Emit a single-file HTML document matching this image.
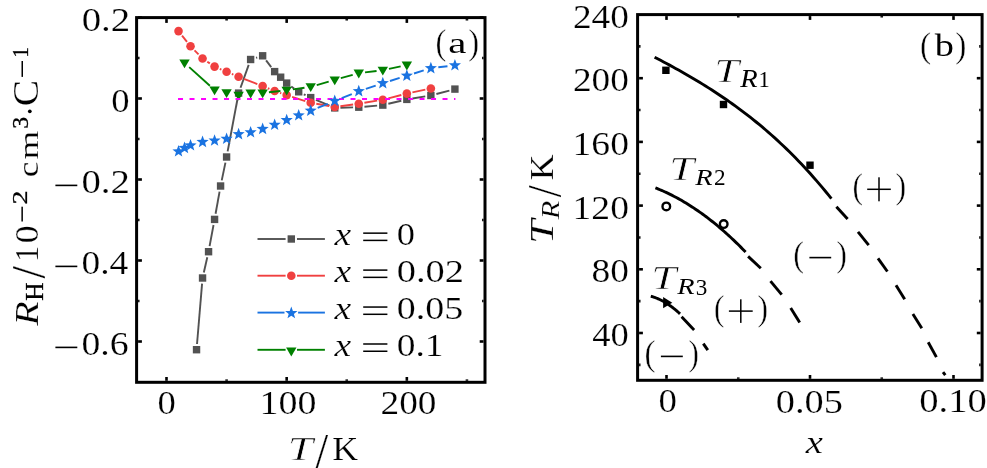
<!DOCTYPE html>
<html><head><meta charset="utf-8"><style>html,body{margin:0;padding:0;background:#fff;overflow:hidden}svg{display:block}text{font-family:"Liberation Serif",serif}</style></head>
<body>
<svg width="987" height="468" viewBox="0 0 987 468">
<rect width="987" height="468" fill="#fff"/>
<g stroke-linecap="butt">
<line x1="197.02" y1="344.02" x2="202.08" y2="283.68" stroke="#525252" stroke-width="1.9"/><line x1="203.82" y1="272.44" x2="207.29" y2="257.26" stroke="#525252" stroke-width="1.9"/><line x1="209.60" y1="246.10" x2="213.53" y2="225.00" stroke="#525252" stroke-width="1.9"/><line x1="215.58" y1="213.79" x2="219.57" y2="191.61" stroke="#525252" stroke-width="1.9"/><line x1="221.73" y1="180.42" x2="225.43" y2="162.58" stroke="#525252" stroke-width="1.9"/><line x1="227.64" y1="151.40" x2="237.55" y2="98.70" stroke="#525252" stroke-width="1.9"/><line x1="240.52" y1="87.73" x2="248.70" y2="64.87" stroke="#525252" stroke-width="1.9"/><line x1="256.07" y1="57.82" x2="257.19" y2="57.48" stroke="#525252" stroke-width="1.9"/><line x1="266.09" y1="60.34" x2="271.20" y2="67.06" stroke="#525252" stroke-width="1.9"/><line x1="291.29" y1="86.44" x2="294.07" y2="88.46" stroke="#525252" stroke-width="1.9"/><line x1="303.82" y1="94.28" x2="305.57" y2="95.12" stroke="#525252" stroke-width="1.9"/><line x1="315.94" y1="99.85" x2="329.50" y2="105.65" stroke="#525252" stroke-width="1.9"/><line x1="340.44" y1="107.73" x2="353.07" y2="107.37" stroke="#525252" stroke-width="1.9"/><line x1="364.45" y1="106.70" x2="377.13" y2="105.60" stroke="#525252" stroke-width="1.9"/><line x1="388.35" y1="103.78" x2="401.29" y2="100.72" stroke="#525252" stroke-width="1.9"/><line x1="412.47" y1="98.49" x2="425.25" y2="96.41" stroke="#525252" stroke-width="1.9"/><line x1="436.38" y1="94.03" x2="449.40" y2="90.57" stroke="#525252" stroke-width="1.9"/><rect x="192.84" y="346.00" width="7.4" height="7.4" fill="#525252"/><rect x="198.85" y="274.30" width="7.4" height="7.4" fill="#525252"/><rect x="204.86" y="248.00" width="7.4" height="7.4" fill="#525252"/><rect x="210.87" y="215.70" width="7.4" height="7.4" fill="#525252"/><rect x="216.88" y="182.30" width="7.4" height="7.4" fill="#525252"/><rect x="222.89" y="153.30" width="7.4" height="7.4" fill="#525252"/><rect x="234.90" y="89.40" width="7.4" height="7.4" fill="#525252"/><rect x="246.92" y="55.80" width="7.4" height="7.4" fill="#525252"/><rect x="258.94" y="52.10" width="7.4" height="7.4" fill="#525252"/><rect x="270.95" y="67.90" width="7.4" height="7.4" fill="#525252"/><rect x="276.96" y="73.50" width="7.4" height="7.4" fill="#525252"/><rect x="282.97" y="79.40" width="7.4" height="7.4" fill="#525252"/><rect x="294.99" y="88.10" width="7.4" height="7.4" fill="#525252"/><rect x="307.00" y="93.90" width="7.4" height="7.4" fill="#525252"/><rect x="331.04" y="104.20" width="7.4" height="7.4" fill="#525252"/><rect x="355.07" y="103.50" width="7.4" height="7.4" fill="#525252"/><rect x="379.11" y="101.40" width="7.4" height="7.4" fill="#525252"/><rect x="403.14" y="95.70" width="7.4" height="7.4" fill="#525252"/><rect x="427.17" y="91.80" width="7.4" height="7.4" fill="#525252"/><rect x="451.21" y="85.40" width="7.4" height="7.4" fill="#525252"/><line x1="182.05" y1="35.57" x2="187.00" y2="41.83" stroke="#f04040" stroke-width="1.9"/><line x1="194.53" y1="50.36" x2="198.55" y2="54.44" stroke="#f04040" stroke-width="1.9"/><line x1="207.28" y1="61.69" x2="209.84" y2="63.41" stroke="#f04040" stroke-width="1.9"/><line x1="219.80" y1="68.86" x2="221.35" y2="69.54" stroke="#f04040" stroke-width="1.9"/><line x1="231.85" y1="73.99" x2="233.34" y2="74.61" stroke="#f04040" stroke-width="1.9"/><line x1="243.92" y1="78.86" x2="257.32" y2="84.04" stroke="#f04040" stroke-width="1.9"/><line x1="267.91" y1="88.25" x2="269.37" y2="88.85" stroke="#f04040" stroke-width="1.9"/><line x1="280.05" y1="92.84" x2="281.28" y2="93.26" stroke="#f04040" stroke-width="1.9"/><line x1="292.10" y1="96.84" x2="305.28" y2="101.06" stroke="#f04040" stroke-width="1.9"/><line x1="316.32" y1="103.78" x2="329.12" y2="106.02" stroke="#f04040" stroke-width="1.9"/><line x1="340.39" y1="106.22" x2="353.12" y2="104.48" stroke="#f04040" stroke-width="1.9"/><line x1="364.39" y1="102.76" x2="377.18" y2="100.64" stroke="#f04040" stroke-width="1.9"/><line x1="388.33" y1="98.30" x2="401.32" y2="95.00" stroke="#f04040" stroke-width="1.9"/><line x1="412.42" y1="92.42" x2="425.30" y2="89.68" stroke="#f04040" stroke-width="1.9"/><circle cx="178.52" cy="31.10" r="4.3" fill="#f04040"/><circle cx="190.53" cy="46.30" r="4.3" fill="#f04040"/><circle cx="202.55" cy="58.50" r="4.3" fill="#f04040"/><circle cx="214.57" cy="66.60" r="4.3" fill="#f04040"/><circle cx="226.59" cy="71.80" r="4.3" fill="#f04040"/><circle cx="238.60" cy="76.80" r="4.3" fill="#f04040"/><circle cx="262.64" cy="86.10" r="4.3" fill="#f04040"/><circle cx="274.65" cy="91.00" r="4.3" fill="#f04040"/><circle cx="286.67" cy="95.10" r="4.3" fill="#f04040"/><circle cx="310.70" cy="102.80" r="4.3" fill="#f04040"/><circle cx="334.74" cy="107.00" r="4.3" fill="#f04040"/><circle cx="358.77" cy="103.70" r="4.3" fill="#f04040"/><circle cx="382.81" cy="99.70" r="4.3" fill="#f04040"/><circle cx="406.84" cy="93.60" r="4.3" fill="#f04040"/><circle cx="430.87" cy="88.50" r="4.3" fill="#f04040"/><line x1="189.21" y1="67.13" x2="209.88" y2="85.71" stroke="#008000" stroke-width="1.9"/><line x1="268.90" y1="92.24" x2="280.41" y2="91.00" stroke="#008000" stroke-width="1.9"/><line x1="292.90" y1="89.41" x2="304.47" y2="87.73" stroke="#008000" stroke-width="1.9"/><line x1="316.76" y1="85.08" x2="328.68" y2="81.66" stroke="#008000" stroke-width="1.9"/><line x1="340.80" y1="78.20" x2="352.71" y2="74.84" stroke="#008000" stroke-width="1.9"/><line x1="365.03" y1="72.37" x2="376.55" y2="70.97" stroke="#008000" stroke-width="1.9"/><line x1="388.97" y1="68.91" x2="400.68" y2="66.43" stroke="#008000" stroke-width="1.9"/><polygon points="179.33,59.40 189.73,59.40 184.53,68.20" fill="#008000"/><polygon points="209.37,86.40 219.77,86.40 214.57,95.20" fill="#008000"/><polygon points="221.39,89.20 231.78,89.20 226.59,98.00" fill="#008000"/><polygon points="233.40,91.70 243.80,91.70 238.60,100.50" fill="#008000"/><polygon points="245.42,89.60 255.82,89.60 250.62,98.40" fill="#008000"/><polygon points="257.44,89.40 267.84,89.40 262.64,98.20" fill="#008000"/><polygon points="281.47,86.80 291.87,86.80 286.67,95.60" fill="#008000"/><polygon points="305.50,83.30 315.90,83.30 310.70,92.10" fill="#008000"/><polygon points="329.54,76.40 339.94,76.40 334.74,85.20" fill="#008000"/><polygon points="353.57,69.60 363.97,69.60 358.77,78.40" fill="#008000"/><polygon points="377.61,66.70 388.01,66.70 382.81,75.50" fill="#008000"/><polygon points="401.64,61.60 412.04,61.60 406.84,70.40" fill="#008000"/><line x1="178.02" y1="98.9" x2="455.41" y2="98.9" stroke="#ff00ff" stroke-width="2" stroke-dasharray="5 6.5"/><line x1="317.66" y1="107.89" x2="327.78" y2="103.81" stroke="#1a73e1" stroke-width="1.9"/><line x1="341.68" y1="98.17" x2="351.83" y2="94.03" stroke="#1a73e1" stroke-width="1.9"/><line x1="365.89" y1="88.83" x2="375.69" y2="85.57" stroke="#1a73e1" stroke-width="1.9"/><line x1="389.97" y1="80.97" x2="399.68" y2="77.93" stroke="#1a73e1" stroke-width="1.9"/><line x1="414.00" y1="73.47" x2="423.71" y2="70.43" stroke="#1a73e1" stroke-width="1.9"/><line x1="438.32" y1="67.30" x2="447.46" y2="66.20" stroke="#1a73e1" stroke-width="1.9"/><polygon points="178.52,145.00 180.10,149.23 184.60,149.42 181.07,152.23 182.28,156.58 178.52,154.09 174.76,156.58 175.96,152.23 172.43,149.42 176.94,149.23" fill="#1a73e1"/><polygon points="184.53,141.60 186.11,145.83 190.61,146.02 187.08,148.83 188.29,153.18 184.53,150.69 180.76,153.18 181.97,148.83 178.44,146.02 182.95,145.83" fill="#1a73e1"/><polygon points="190.53,139.00 192.11,143.23 196.62,143.42 193.09,146.23 194.30,150.58 190.53,148.09 186.77,150.58 187.98,146.23 184.45,143.42 188.95,143.23" fill="#1a73e1"/><polygon points="202.55,135.60 204.13,139.83 208.64,140.02 205.11,142.83 206.31,147.18 202.55,144.69 198.79,147.18 199.99,142.83 196.46,140.02 200.97,139.83" fill="#1a73e1"/><polygon points="214.57,134.20 216.15,138.43 220.65,138.62 217.12,141.43 218.33,145.78 214.57,143.29 210.81,145.78 212.01,141.43 208.48,138.62 212.99,138.43" fill="#1a73e1"/><polygon points="226.59,132.40 228.16,136.63 232.67,136.82 229.14,139.63 230.35,143.98 226.59,141.49 222.82,143.98 224.03,139.63 220.50,136.82 225.01,136.63" fill="#1a73e1"/><polygon points="238.60,127.80 240.18,132.03 244.69,132.22 241.16,135.03 242.36,139.38 238.60,136.89 234.84,139.38 236.05,135.03 232.52,132.22 237.02,132.03" fill="#1a73e1"/><polygon points="250.62,125.90 252.20,130.13 256.71,130.32 253.18,133.13 254.38,137.48 250.62,134.99 246.86,137.48 248.06,133.13 244.53,130.32 249.04,130.13" fill="#1a73e1"/><polygon points="262.64,122.60 264.22,126.83 268.72,127.02 265.19,129.83 266.40,134.18 262.64,131.69 258.87,134.18 260.08,129.83 256.55,127.02 261.06,126.83" fill="#1a73e1"/><polygon points="274.65,118.40 276.23,122.63 280.74,122.82 277.21,125.63 278.41,129.98 274.65,127.49 270.89,129.98 272.10,125.63 268.57,122.82 273.07,122.63" fill="#1a73e1"/><polygon points="286.67,113.70 288.25,117.93 292.76,118.12 289.23,120.93 290.43,125.28 286.67,122.79 282.91,125.28 284.11,120.93 280.58,118.12 285.09,117.93" fill="#1a73e1"/><polygon points="298.69,109.00 300.27,113.23 304.77,113.42 301.24,116.23 302.45,120.58 298.69,118.09 294.93,120.58 296.13,116.23 292.60,113.42 297.11,113.23" fill="#1a73e1"/><polygon points="310.70,104.30 312.28,108.53 316.79,108.72 313.26,111.53 314.47,115.88 310.70,113.39 306.94,115.88 308.15,111.53 304.62,108.72 309.12,108.53" fill="#1a73e1"/><polygon points="334.74,94.60 336.32,98.83 340.82,99.02 337.29,101.83 338.50,106.18 334.74,103.69 330.98,106.18 332.18,101.83 328.65,99.02 333.16,98.83" fill="#1a73e1"/><polygon points="358.77,84.80 360.35,89.03 364.86,89.22 361.33,92.03 362.53,96.38 358.77,93.89 355.01,96.38 356.22,92.03 352.69,89.22 357.19,89.03" fill="#1a73e1"/><polygon points="382.81,76.80 384.39,81.03 388.89,81.22 385.36,84.03 386.57,88.38 382.81,85.89 379.04,88.38 380.25,84.03 376.72,81.22 381.23,81.03" fill="#1a73e1"/><polygon points="406.84,69.30 408.42,73.53 412.93,73.72 409.40,76.53 410.60,80.88 406.84,78.39 403.08,80.88 404.28,76.53 400.75,73.72 405.26,73.53" fill="#1a73e1"/><polygon points="430.87,61.80 432.45,66.03 436.96,66.22 433.43,69.03 434.64,73.38 430.87,70.89 427.11,73.38 428.32,69.03 424.79,66.22 429.29,66.03" fill="#1a73e1"/><polygon points="454.91,58.90 456.49,63.13 460.99,63.32 457.46,66.13 458.67,70.48 454.91,67.99 451.15,70.48 452.35,66.13 448.82,63.32 453.33,63.13" fill="#1a73e1"/>
<line x1="257.5" y1="239.0" x2="285.6" y2="239.0" stroke="#525252" stroke-width="1.9"/><line x1="297.0" y1="239.0" x2="324.9" y2="239.0" stroke="#525252" stroke-width="1.9"/><rect x="287.60" y="235.30" width="7.4" height="7.4" fill="#525252"/><line x1="257.5" y1="275.7" x2="285.6" y2="275.7" stroke="#f04040" stroke-width="1.9"/><line x1="297.0" y1="275.7" x2="324.9" y2="275.7" stroke="#f04040" stroke-width="1.9"/><circle cx="291.30" cy="275.70" r="4.3" fill="#f04040"/><line x1="257.5" y1="312.6" x2="284.5" y2="312.6" stroke="#1a73e1" stroke-width="1.9"/><line x1="298.1" y1="312.6" x2="324.9" y2="312.6" stroke="#1a73e1" stroke-width="1.9"/><polygon points="291.30,306.60 292.90,310.89 297.48,311.09 293.90,313.94 295.12,318.36 291.30,315.83 287.48,318.36 288.70,313.94 285.12,311.09 289.70,310.89" fill="#1a73e1"/><line x1="257.5" y1="349.8" x2="285.6" y2="349.8" stroke="#008000" stroke-width="1.9"/><line x1="297.0" y1="349.8" x2="324.9" y2="349.8" stroke="#008000" stroke-width="1.9"/><polygon points="286.10,347.40 296.50,347.40 291.30,356.40" fill="#008000"/>
<path d="M654.60,57.18 L657.60,58.75 L660.59,60.33 L663.59,61.92 L666.59,63.52 L669.58,65.14 L672.58,66.77 L675.58,68.42 L678.57,70.09 L681.57,71.77 L684.57,73.47 L687.56,75.20 L690.56,76.94 L693.56,78.70 L696.55,80.48 L699.55,82.29 L702.55,84.12 L705.54,85.98 L708.54,87.86 L711.54,89.77 L714.53,91.71 L717.53,93.68 L720.53,95.67 L723.52,97.70 L726.52,99.75 L729.52,101.84 L732.51,103.97 L735.51,106.12 L738.51,108.31 L741.50,110.54 L744.50,112.81 L747.49,115.11 L750.49,117.45 L753.49,119.83 L756.48,122.25 L759.48,124.72 L762.48,127.22 L765.47,129.77 L768.47,132.36 L771.47,135.00 L774.46,137.68 L777.46,140.41 L780.46,143.19 L783.45,146.02 L786.45,148.90 L789.45,151.83 L792.44,154.81 L795.44,157.84 L798.44,160.93 L801.43,164.07 L804.43,167.26 L807.43,170.51 L810.42,173.82 L813.42,177.19 L816.42,180.62 L819.41,184.10 L822.41,187.65 L825.41,191.26 L828.40,194.93 L831.40,198.66" fill="none" stroke="#000" stroke-width="2.9"/><path d="M655.40,187.87 L656.93,188.47 L658.46,189.08 L659.99,189.72 L661.52,190.37 L663.04,191.04 L664.57,191.72 L666.10,192.42 L667.63,193.14 L669.16,193.87 L670.69,194.62 L672.22,195.39 L673.75,196.18 L675.27,196.98 L676.80,197.80 L678.33,198.63 L679.86,199.48 L681.39,200.35 L682.92,201.24 L684.45,202.14 L685.98,203.06 L687.51,204.00 L689.03,204.95 L690.56,205.92 L692.09,206.91 L693.62,207.91 L695.15,208.93 L696.68,209.97 L698.21,211.02 L699.74,212.09 L701.26,213.18 L702.79,214.28 L704.32,215.41 L705.85,216.54 L707.38,217.70 L708.91,218.87 L710.44,220.06 L711.97,221.26 L713.49,222.49 L715.02,223.73 L716.55,224.98 L718.08,226.25 L719.61,227.54 L721.14,228.85 L722.67,230.17 L724.20,231.51 L725.73,232.87 L727.25,234.24 L728.78,235.64 L730.31,237.04 L731.84,238.47 L733.37,239.91 L734.90,241.37 L736.43,242.84 L737.96,244.33 L739.48,245.84 L741.01,247.37 L742.54,248.91 L744.07,250.47 L745.60,252.04" fill="none" stroke="#000" stroke-width="2.9"/><path d="M650.80,296.20 L651.29,296.34 L651.79,296.48 L652.28,296.63 L652.78,296.79 L653.27,296.95 L653.77,297.12 L654.26,297.29 L654.76,297.46 L655.25,297.65 L655.75,297.83 L656.24,298.03 L656.74,298.23 L657.23,298.43 L657.73,298.64 L658.22,298.86 L658.72,299.08 L659.21,299.31 L659.71,299.54 L660.20,299.78 L660.70,300.02 L661.19,300.27 L661.69,300.52 L662.18,300.78 L662.68,301.05 L663.17,301.32 L663.67,301.60 L664.16,301.88 L664.66,302.17 L665.15,302.46 L665.65,302.76 L666.14,303.06 L666.64,303.37 L667.13,303.69 L667.63,304.01 L668.12,304.33 L668.62,304.67 L669.11,305.00 L669.61,305.35 L670.10,305.69 L670.60,306.05 L671.09,306.41 L671.59,306.77 L672.08,307.14 L672.58,307.52 L673.07,307.90 L673.57,308.29 L674.06,308.68 L674.56,309.08 L675.05,309.48 L675.55,309.89 L676.04,310.31 L676.54,310.73 L677.03,311.15 L677.53,311.59 L678.02,312.02 L678.52,312.47 L679.01,312.91 L679.51,313.37 L680.00,313.83" fill="none" stroke="#000" stroke-width="2.9"/><line x1="836.4" y1="206.7" x2="847.6" y2="219.0" stroke="#000" stroke-width="2.9"/><line x1="858.0" y1="231.9" x2="868.7" y2="245.1" stroke="#000" stroke-width="2.9"/><line x1="878.0" y1="258.3" x2="887.4" y2="271.5" stroke="#000" stroke-width="2.9"/><line x1="896.0" y1="285.2" x2="904.7" y2="299.3" stroke="#000" stroke-width="2.9"/><line x1="912.9" y1="314.1" x2="921.8" y2="328.2" stroke="#000" stroke-width="2.9"/><line x1="928.2" y1="342.3" x2="936.4" y2="357.1" stroke="#000" stroke-width="2.9"/><line x1="943.0" y1="372.1" x2="945.3" y2="375.2" stroke="#000" stroke-width="2.9"/><line x1="748.1" y1="256.4" x2="760.8" y2="268.3" stroke="#000" stroke-width="2.9"/><line x1="770.5" y1="281.1" x2="781.7" y2="294.6" stroke="#000" stroke-width="2.9"/><line x1="790.7" y1="308.0" x2="799.7" y2="322.6" stroke="#000" stroke-width="2.9"/><line x1="681.6" y1="316.7" x2="694.1" y2="329.9" stroke="#000" stroke-width="2.9"/><line x1="703.3" y1="343.6" x2="707.8" y2="350.1" stroke="#000" stroke-width="2.9"/>
<rect x="662.20" y="66.60" width="7.4" height="7.4" fill="#000"/><rect x="719.80" y="100.80" width="7.4" height="7.4" fill="#000"/><rect x="806.30" y="161.50" width="7.4" height="7.4" fill="#000"/><circle cx="666.3" cy="206.4" r="3.8" fill="#fff" stroke="#000" stroke-width="2.4"/><circle cx="723.7" cy="224.1" r="3.8" fill="#fff" stroke="#000" stroke-width="2.4"/><polygon points="663.1,297.1 672.3,302.7 663.1,308.2" fill="#000"/>
<line x1="166.50" y1="380.80" x2="166.50" y2="377.00" stroke="#000" stroke-width="2.6"/><line x1="166.50" y1="19.10" x2="166.50" y2="22.90" stroke="#000" stroke-width="2.6"/><line x1="286.67" y1="380.80" x2="286.67" y2="377.00" stroke="#000" stroke-width="2.6"/><line x1="286.67" y1="19.10" x2="286.67" y2="22.90" stroke="#000" stroke-width="2.6"/><line x1="406.84" y1="380.80" x2="406.84" y2="377.00" stroke="#000" stroke-width="2.6"/><line x1="406.84" y1="19.10" x2="406.84" y2="22.90" stroke="#000" stroke-width="2.6"/><line x1="226.59" y1="380.80" x2="226.59" y2="379.40" stroke="#000" stroke-width="2.6"/><line x1="226.59" y1="19.10" x2="226.59" y2="20.50" stroke="#000" stroke-width="2.6"/><line x1="346.75" y1="380.80" x2="346.75" y2="379.40" stroke="#000" stroke-width="2.6"/><line x1="346.75" y1="19.10" x2="346.75" y2="20.50" stroke="#000" stroke-width="2.6"/><line x1="466.93" y1="380.80" x2="466.93" y2="379.40" stroke="#000" stroke-width="2.6"/><line x1="466.93" y1="19.10" x2="466.93" y2="20.50" stroke="#000" stroke-width="2.6"/><line x1="138.10" y1="17.50" x2="141.90" y2="17.50" stroke="#000" stroke-width="2.6"/><line x1="483.50" y1="17.50" x2="479.70" y2="17.50" stroke="#000" stroke-width="2.6"/><line x1="138.10" y1="98.50" x2="141.90" y2="98.50" stroke="#000" stroke-width="2.6"/><line x1="483.50" y1="98.50" x2="479.70" y2="98.50" stroke="#000" stroke-width="2.6"/><line x1="138.10" y1="179.50" x2="141.90" y2="179.50" stroke="#000" stroke-width="2.6"/><line x1="483.50" y1="179.50" x2="479.70" y2="179.50" stroke="#000" stroke-width="2.6"/><line x1="138.10" y1="260.50" x2="141.90" y2="260.50" stroke="#000" stroke-width="2.6"/><line x1="483.50" y1="260.50" x2="479.70" y2="260.50" stroke="#000" stroke-width="2.6"/><line x1="138.10" y1="341.50" x2="141.90" y2="341.50" stroke="#000" stroke-width="2.6"/><line x1="483.50" y1="341.50" x2="479.70" y2="341.50" stroke="#000" stroke-width="2.6"/><line x1="138.10" y1="58.00" x2="139.50" y2="58.00" stroke="#000" stroke-width="2.6"/><line x1="483.50" y1="58.00" x2="482.10" y2="58.00" stroke="#000" stroke-width="2.6"/><line x1="138.10" y1="139.00" x2="139.50" y2="139.00" stroke="#000" stroke-width="2.6"/><line x1="483.50" y1="139.00" x2="482.10" y2="139.00" stroke="#000" stroke-width="2.6"/><line x1="138.10" y1="220.00" x2="139.50" y2="220.00" stroke="#000" stroke-width="2.6"/><line x1="483.50" y1="220.00" x2="482.10" y2="220.00" stroke="#000" stroke-width="2.6"/><line x1="138.10" y1="301.00" x2="139.50" y2="301.00" stroke="#000" stroke-width="2.6"/><line x1="483.50" y1="301.00" x2="482.10" y2="301.00" stroke="#000" stroke-width="2.6"/><line x1="666.50" y1="378.80" x2="666.50" y2="375.00" stroke="#000" stroke-width="2.6"/><line x1="666.50" y1="16.10" x2="666.50" y2="19.90" stroke="#000" stroke-width="2.6"/><line x1="810.00" y1="378.80" x2="810.00" y2="375.00" stroke="#000" stroke-width="2.6"/><line x1="810.00" y1="16.10" x2="810.00" y2="19.90" stroke="#000" stroke-width="2.6"/><line x1="953.50" y1="378.80" x2="953.50" y2="375.00" stroke="#000" stroke-width="2.6"/><line x1="953.50" y1="16.10" x2="953.50" y2="19.90" stroke="#000" stroke-width="2.6"/><line x1="738.25" y1="378.80" x2="738.25" y2="377.40" stroke="#000" stroke-width="2.6"/><line x1="738.25" y1="16.10" x2="738.25" y2="17.50" stroke="#000" stroke-width="2.6"/><line x1="881.75" y1="378.80" x2="881.75" y2="377.40" stroke="#000" stroke-width="2.6"/><line x1="881.75" y1="16.10" x2="881.75" y2="17.50" stroke="#000" stroke-width="2.6"/><line x1="639.10" y1="333.00" x2="642.90" y2="333.00" stroke="#000" stroke-width="2.6"/><line x1="980.60" y1="333.00" x2="976.80" y2="333.00" stroke="#000" stroke-width="2.6"/><line x1="639.10" y1="269.30" x2="642.90" y2="269.30" stroke="#000" stroke-width="2.6"/><line x1="980.60" y1="269.30" x2="976.80" y2="269.30" stroke="#000" stroke-width="2.6"/><line x1="639.10" y1="205.60" x2="642.90" y2="205.60" stroke="#000" stroke-width="2.6"/><line x1="980.60" y1="205.60" x2="976.80" y2="205.60" stroke="#000" stroke-width="2.6"/><line x1="639.10" y1="141.90" x2="642.90" y2="141.90" stroke="#000" stroke-width="2.6"/><line x1="980.60" y1="141.90" x2="976.80" y2="141.90" stroke="#000" stroke-width="2.6"/><line x1="639.10" y1="78.20" x2="642.90" y2="78.20" stroke="#000" stroke-width="2.6"/><line x1="980.60" y1="78.20" x2="976.80" y2="78.20" stroke="#000" stroke-width="2.6"/><line x1="639.10" y1="364.85" x2="640.50" y2="364.85" stroke="#000" stroke-width="2.6"/><line x1="980.60" y1="364.85" x2="979.20" y2="364.85" stroke="#000" stroke-width="2.6"/><line x1="639.10" y1="301.15" x2="640.50" y2="301.15" stroke="#000" stroke-width="2.6"/><line x1="980.60" y1="301.15" x2="979.20" y2="301.15" stroke="#000" stroke-width="2.6"/><line x1="639.10" y1="237.45" x2="640.50" y2="237.45" stroke="#000" stroke-width="2.6"/><line x1="980.60" y1="237.45" x2="979.20" y2="237.45" stroke="#000" stroke-width="2.6"/><line x1="639.10" y1="173.75" x2="640.50" y2="173.75" stroke="#000" stroke-width="2.6"/><line x1="980.60" y1="173.75" x2="979.20" y2="173.75" stroke="#000" stroke-width="2.6"/><line x1="639.10" y1="110.05" x2="640.50" y2="110.05" stroke="#000" stroke-width="2.6"/><line x1="980.60" y1="110.05" x2="979.20" y2="110.05" stroke="#000" stroke-width="2.6"/><line x1="639.10" y1="46.35" x2="640.50" y2="46.35" stroke="#000" stroke-width="2.6"/><line x1="980.60" y1="46.35" x2="979.20" y2="46.35" stroke="#000" stroke-width="2.6"/>
<rect x="136.6" y="17.6" width="348.4" height="364.7" fill="none" stroke="#000" stroke-width="3.0"/>
<rect x="637.6" y="14.6" width="344.5" height="365.7" fill="none" stroke="#000" stroke-width="3.0"/>
</g>
<circle cx="29.8" cy="111.3" r="1.85" fill="#000"/><rect x="55.40" y="184.60" width="21.90" height="1.60" fill="#000"/><rect x="55.40" y="265.60" width="21.90" height="1.60" fill="#000"/><rect x="55.40" y="346.60" width="21.90" height="1.60" fill="#000"/><rect x="363.20" y="232.40" width="24.20" height="1.50" fill="#000"/><rect x="363.20" y="239.65" width="24.20" height="1.50" fill="#000"/><rect x="363.20" y="269.35" width="24.20" height="1.50" fill="#000"/><rect x="363.20" y="276.60" width="24.20" height="1.50" fill="#000"/><rect x="363.20" y="306.30" width="24.20" height="1.50" fill="#000"/><rect x="363.20" y="313.55" width="24.20" height="1.50" fill="#000"/><rect x="363.20" y="343.25" width="24.20" height="1.50" fill="#000"/><rect x="363.20" y="350.50" width="24.20" height="1.50" fill="#000"/><rect x="21.40" y="206.70" width="1.50" height="14.80" fill="#000"/><rect x="21.50" y="61.00" width="1.50" height="15.90" fill="#000"/><rect x="867.20" y="188.55" width="23.60" height="1.50" fill="#000"/><rect x="878.25" y="177.30" width="1.50" height="24.00" fill="#000"/><rect x="728.90" y="310.35" width="23.80" height="1.50" fill="#000"/><rect x="740.05" y="299.30" width="1.50" height="23.60" fill="#000"/><rect x="809.40" y="256.80" width="21.80" height="1.60" fill="#000"/><rect x="660.90" y="355.60" width="21.90" height="1.60" fill="#000"/>
<g font-family="Liberation Serif" fill="#000" stroke="#fff" stroke-width="0.2" style="will-change:transform">
<text transform="matrix(0.38870 0 0 0.33284 81.695 31.284)" font-size="100" vector-effect="non-scaling-stroke">0.2</text>
<text transform="matrix(0.36667 0 0 0.33284 111.183 112.284)" font-size="100" vector-effect="non-scaling-stroke">0</text>
<text transform="matrix(0.38783 0 0 0.33284 81.399 193.284)" font-size="100" vector-effect="non-scaling-stroke">0.2</text>
<text transform="matrix(0.37479 0 0 0.33284 81.451 274.284)" font-size="100" vector-effect="non-scaling-stroke">0.4</text>
<text transform="matrix(0.37797 0 0 0.33284 81.438 355.284)" font-size="100" vector-effect="non-scaling-stroke">0.6</text>
<text transform="matrix(0.36667 0 0 0.33582 157.383 414.278)" font-size="100" vector-effect="non-scaling-stroke">0</text>
<text transform="matrix(0.37956 0 0 0.33088 259.434 414.288)" font-size="100" vector-effect="non-scaling-stroke">100</text>
<text transform="matrix(0.37324 0 0 0.33731 380.557 414.275)" font-size="100" vector-effect="non-scaling-stroke">200</text>
<text transform="matrix(0.45370 0 0 0.34000 287.874 459.550)" font-size="100" vector-effect="non-scaling-stroke" font-style="italic" stroke-width="0.7">T</text>
<text transform="matrix(0.46429 0 0 0.50455 315.350 468.045)" font-size="100" vector-effect="non-scaling-stroke">/</text>
<text transform="matrix(0.36029 0 0 0.34000 332.169 459.550)" font-size="100" vector-effect="non-scaling-stroke">K</text>
<text transform="matrix(0.32308 0 0 0.36111 435.558 53.767)" font-size="100" vector-effect="non-scaling-stroke" stroke-width="0.4">(</text>
<text transform="matrix(0.40769 0 0 0.30208 448.219 52.948)" font-size="100" vector-effect="non-scaling-stroke" stroke="none">a</text>
<text transform="matrix(0.32692 0 0 0.36111 468.369 53.767)" font-size="100" vector-effect="non-scaling-stroke" stroke-width="0.4">)</text>
<text transform="matrix(0.37556 0 0 0.31522 334.526 245.250)" font-size="100" vector-effect="non-scaling-stroke" font-style="italic">x</text>
<text transform="matrix(0.36429 0 0 0.31493 396.793 244.820)" font-size="100" vector-effect="non-scaling-stroke">0</text>
<text transform="matrix(0.37556 0 0 0.31522 334.526 282.200)" font-size="100" vector-effect="non-scaling-stroke" font-style="italic">x</text>
<text transform="matrix(0.38424 0 0 0.31493 396.713 281.770)" font-size="100" vector-effect="non-scaling-stroke">0.02</text>
<text transform="matrix(0.37556 0 0 0.31522 334.526 319.150)" font-size="100" vector-effect="non-scaling-stroke" font-style="italic">x</text>
<text transform="matrix(0.37964 0 0 0.31493 396.731 318.720)" font-size="100" vector-effect="non-scaling-stroke">0.05</text>
<text transform="matrix(0.37556 0 0 0.31522 334.526 356.100)" font-size="100" vector-effect="non-scaling-stroke" font-style="italic">x</text>
<text transform="matrix(0.37478 0 0 0.31029 396.751 355.679)" font-size="100" vector-effect="non-scaling-stroke">0.1</text>
<text transform="matrix(0 -0.40000 0.34154 0 38.150 325.750)" font-size="100" vector-effect="non-scaling-stroke" font-style="italic">R</text>
<text transform="matrix(0 -0.25303 0.24154 0 42.950 300.809)" font-size="100" vector-effect="non-scaling-stroke" stroke="#000" stroke-width="0.3">H</text>
<text transform="matrix(0 -0.44643 0.48333 0 44.567 278.550)" font-size="100" vector-effect="non-scaling-stroke">/</text>
<text transform="matrix(0 -0.32286 0.33182 0 38.050 261.956)" font-size="100" vector-effect="non-scaling-stroke">1</text>
<text transform="matrix(0 -0.35952 0.32836 0 37.693 243.188)" font-size="100" vector-effect="non-scaling-stroke">0</text>
<text transform="matrix(0 -0.28250 0.21846 0 27.250 204.580)" font-size="100" vector-effect="non-scaling-stroke" stroke="#000" stroke-width="0.3">2</text>
<text transform="matrix(0 -0.34865 0.28958 0 37.960 177.245)" font-size="100" vector-effect="non-scaling-stroke">c</text>
<text transform="matrix(0 -0.37027 0.27447 0 38.250 159.391)" font-size="100" vector-effect="non-scaling-stroke">m</text>
<text transform="matrix(0 -0.23659 0.23485 0 27.815 128.833)" font-size="100" vector-effect="non-scaling-stroke" stroke="#000" stroke-width="0.3">3</text>
<text transform="matrix(0 -0.39474 0.35373 0 37.643 106.129)" font-size="100" vector-effect="non-scaling-stroke">C</text>
<text transform="matrix(0 -0.21429 0.22727 0 27.850 57.779)" font-size="100" vector-effect="non-scaling-stroke" stroke="#000" stroke-width="0.3">1</text>
<text transform="matrix(0.37324 0 0 0.33582 572.957 27.578)" font-size="100" vector-effect="non-scaling-stroke">240</text>
<text transform="matrix(0.37324 0 0 0.33582 572.957 91.278)" font-size="100" vector-effect="non-scaling-stroke">200</text>
<text transform="matrix(0.37591 0 0 0.33088 572.567 154.988)" font-size="100" vector-effect="non-scaling-stroke">160</text>
<text transform="matrix(0.37591 0 0 0.33088 572.567 218.688)" font-size="100" vector-effect="non-scaling-stroke">120</text>
<text transform="matrix(0.37391 0 0 0.33582 591.554 282.378)" font-size="100" vector-effect="non-scaling-stroke">80</text>
<text transform="matrix(0.36596 0 0 0.33582 592.318 346.078)" font-size="100" vector-effect="non-scaling-stroke">40</text>
<text transform="matrix(0.36905 0 0 0.32985 658.574 412.290)" font-size="100" vector-effect="non-scaling-stroke">0</text>
<text transform="matrix(0.38383 0 0 0.34030 775.715 412.769)" font-size="100" vector-effect="non-scaling-stroke">0.05</text>
<text transform="matrix(0.38623 0 0 0.33382 919.305 412.482)" font-size="100" vector-effect="non-scaling-stroke">0.10</text>
<text transform="matrix(0.38667 0 0 0.31522 805.837 452.650)" font-size="100" vector-effect="non-scaling-stroke" font-style="italic">x</text>
<text transform="matrix(0 -0.43889 0.33385 0 553.450 244.122)" font-size="100" vector-effect="non-scaling-stroke" font-style="italic">T</text>
<text transform="matrix(0 -0.30339 0.24615 0 558.650 219.250)" font-size="100" vector-effect="non-scaling-stroke" font-style="italic">R</text>
<text transform="matrix(0 -0.43571 0.48788 0 560.662 197.250)" font-size="100" vector-effect="non-scaling-stroke">/</text>
<text transform="matrix(0 -0.35735 0.33846 0 553.150 180.322)" font-size="100" vector-effect="non-scaling-stroke">K</text>
<text transform="matrix(0.33462 0 0 0.36333 920.112 57.020)" font-size="100" vector-effect="non-scaling-stroke" stroke-width="0.4">(</text>
<text transform="matrix(0.38261 0 0 0.32571 934.650 56.324)" font-size="100" vector-effect="non-scaling-stroke" stroke="none">b</text>
<text transform="matrix(0.33462 0 0 0.36333 955.246 57.020)" font-size="100" vector-effect="non-scaling-stroke" stroke-width="0.4">)</text>
<text transform="matrix(0.44630 0 0 0.33846 714.326 82.350)" font-size="100" vector-effect="non-scaling-stroke" font-style="italic" stroke-width="0.7">T</text>
<text transform="matrix(0.28475 0 0 0.24154 740.150 87.150)" font-size="100" vector-effect="non-scaling-stroke" font-style="italic" stroke="none">R</text>
<text transform="matrix(0.22571 0 0 0.22424 758.619 87.150)" font-size="100" vector-effect="non-scaling-stroke" stroke="none">1</text>
<text transform="matrix(0.44815 0 0 0.33538 669.213 180.350)" font-size="100" vector-effect="non-scaling-stroke" font-style="italic" stroke-width="0.7">T</text>
<text transform="matrix(0.28305 0 0 0.24000 695.150 185.450)" font-size="100" vector-effect="non-scaling-stroke" font-style="italic" stroke="none">R</text>
<text transform="matrix(0.23250 0 0 0.22154 714.120 185.150)" font-size="100" vector-effect="non-scaling-stroke" stroke="none">2</text>
<text transform="matrix(0.45185 0 0 0.33538 651.187 289.350)" font-size="100" vector-effect="non-scaling-stroke" font-style="italic" stroke-width="0.7">T</text>
<text transform="matrix(0.28305 0 0 0.24000 677.150 294.450)" font-size="100" vector-effect="non-scaling-stroke" font-style="italic" stroke="none">R</text>
<text transform="matrix(0.23171 0 0 0.23939 695.691 295.011)" font-size="100" vector-effect="non-scaling-stroke" stroke="none">3</text>
<text transform="matrix(0.31538 0 0 0.36333 852.488 197.820)" font-size="100" vector-effect="non-scaling-stroke" stroke-width="0.4">(</text>
<text transform="matrix(0.31923 0 0 0.36333 895.392 197.820)" font-size="100" vector-effect="non-scaling-stroke" stroke-width="0.4">)</text>
<text transform="matrix(0.31154 0 0 0.36667 714.004 319.750)" font-size="100" vector-effect="non-scaling-stroke" stroke-width="0.4">(</text>
<text transform="matrix(0.31538 0 0 0.36667 757.504 319.750)" font-size="100" vector-effect="non-scaling-stroke" stroke-width="0.4">)</text>
<text transform="matrix(0.32308 0 0 0.36556 793.158 266.473)" font-size="100" vector-effect="non-scaling-stroke" stroke-width="0.4">(</text>
<text transform="matrix(0.31154 0 0 0.36556 836.615 266.473)" font-size="100" vector-effect="non-scaling-stroke" stroke-width="0.4">)</text>
<text transform="matrix(0.33077 0 0 0.36333 644.427 365.120)" font-size="100" vector-effect="non-scaling-stroke" stroke-width="0.4">(</text>
<text transform="matrix(0.31154 0 0 0.36333 688.415 365.120)" font-size="100" vector-effect="non-scaling-stroke" stroke-width="0.4">)</text>
</g>
</svg>
</body></html>
